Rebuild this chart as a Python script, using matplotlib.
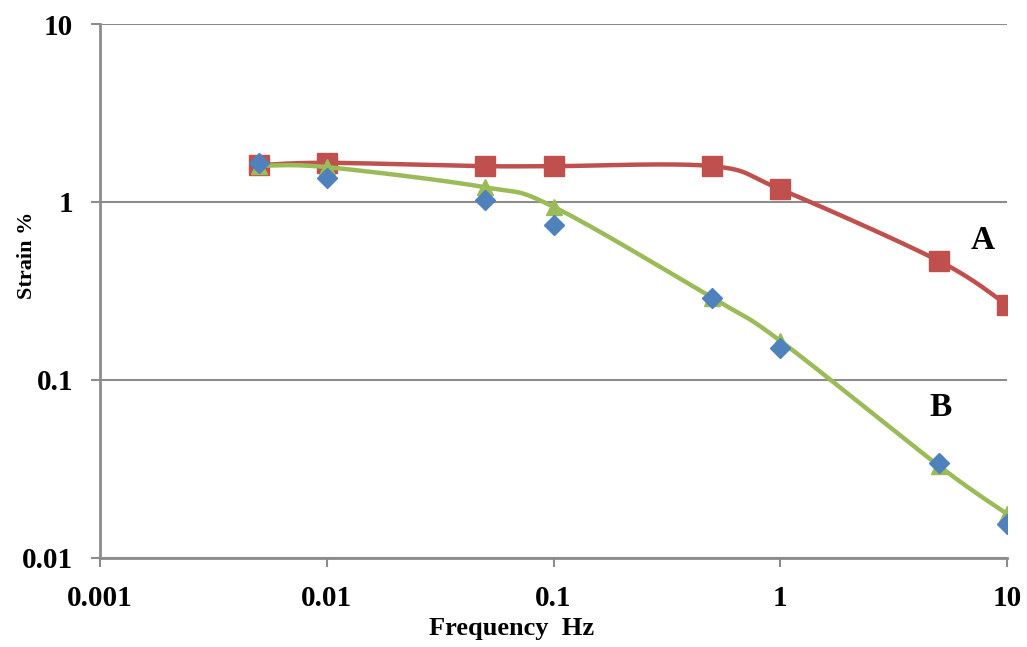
import numpy as np
import matplotlib
matplotlib.use("Agg")
import matplotlib.pyplot as plt

# frequency (Hz) and strain (%)
freq = [0.005, 0.01, 0.05, 0.1, 0.5, 1, 5, 10]
strain_a = [1.61, 1.66, 1.59, 1.59, 1.59, 1.18, 0.467, 0.264]
strain_b = [1.60, 1.57, 1.21, 0.94, 0.29, 0.166, 0.033, 0.0177]
strain_pts = [1.66, 1.36, 1.03, 0.74, 0.29, 0.151, 0.034, 0.0156]

xticks = [0.001, 0.01, 0.1, 1, 10]
xtick_labels = ["0.001", "0.01", "0.1", "1", "10"]
yticks = [0.01, 0.1, 1, 10]
ytick_labels = ["0.01", "0.1", "1", "10"]

RED = "#C0504D"
GREEN = "#9BBB59"
BLUE = "#4F81BD"
GRID = "#8C8C8C"
SERIF = "Liberation Serif"


def smooth(xs, ys, n=40):
    # Excel-style smoothed line: Catmull-Rom bezier in log-log space
    p = np.column_stack([np.log10(xs), np.log10(ys)])
    p = np.vstack([p[0], p, p[-1]])
    t = np.linspace(0, 1, n)[:, None]
    out = []
    for i in range(1, len(p) - 2):
        p0, p1, p2, p3 = p[i - 1], p[i], p[i + 1], p[i + 2]
        c1 = p1 + (p2 - p0) / 6
        c2 = p2 - (p3 - p1) / 6
        seg = ((1 - t) ** 3) * p1 + 3 * ((1 - t) ** 2) * t * c1 \
            + 3 * (1 - t) * t ** 2 * c2 + t ** 3 * p2
        out.append(seg)
    out = np.vstack(out)
    return 10 ** out[:, 0], 10 ** out[:, 1]


fig = plt.figure(figsize=(10.27, 6.47), dpi=100)
ax = fig.add_axes([0.0974, 0.1376, 0.8831, 0.8253])
ax.set_xscale("log")
ax.set_yscale("log")
ax.set_xlim(0.001, 10)
ax.set_ylim(0.01, 10)

# series A
sx, sy = smooth(freq, strain_a)
ax.plot(sx, sy, color=RED, lw=3.2, solid_capstyle="round", zorder=3)
ax.plot(freq, strain_a, ls="none", marker="s", ms=14, color=RED, zorder=4)

# series B
sx, sy = smooth(freq, strain_b)
ax.plot(sx, sy, color=GREEN, lw=3.2, solid_capstyle="round", zorder=5)
ax.plot(freq, strain_b, ls="none", marker="^", ms=12, color=GREEN, zorder=6)

# measured points
ax.plot(freq, strain_pts, ls="none", marker="D", ms=10, color=BLUE, zorder=7)

ax.text(7.8, 0.61, "A", fontsize=24, fontweight="bold", family=SERIF,
        ha="center", va="center")
ax.text(5.07, 0.0705, "B", fontsize=24, fontweight="bold", family=SERIF,
        ha="center", va="center")

ax.set_xticks(xticks, xtick_labels)
ax.set_yticks(yticks, ytick_labels)
ax.minorticks_off()
for lab in ax.get_xticklabels() + ax.get_yticklabels():
    lab.set_family(SERIF)
    lab.set_fontweight("bold")
    lab.set_fontsize(21)
ax.tick_params(axis="both", direction="out", length=6.5, width=1.5, color=GRID)
ax.tick_params(axis="x", pad=13)
ax.tick_params(axis="y", pad=13)

ax.yaxis.grid(True, color=GRID, lw=1.5)
ax.set_axisbelow(True)
for side in ("top", "right"):
    ax.spines[side].set_visible(False)
for side in ("left", "bottom"):
    ax.spines[side].set_color(GRID)
    ax.spines[side].set_linewidth(2)

ax.set_xlabel("Frequency  Hz", fontsize=19, fontweight="bold", family=SERIF)
ax.set_ylabel("Strain %", fontsize=16, fontweight="bold", family=SERIF)
ax.xaxis.set_label_coords(0.454, -0.110)
ax.yaxis.set_label_coords(-0.069, 0.566)

fig.savefig("out.png", dpi=100)
